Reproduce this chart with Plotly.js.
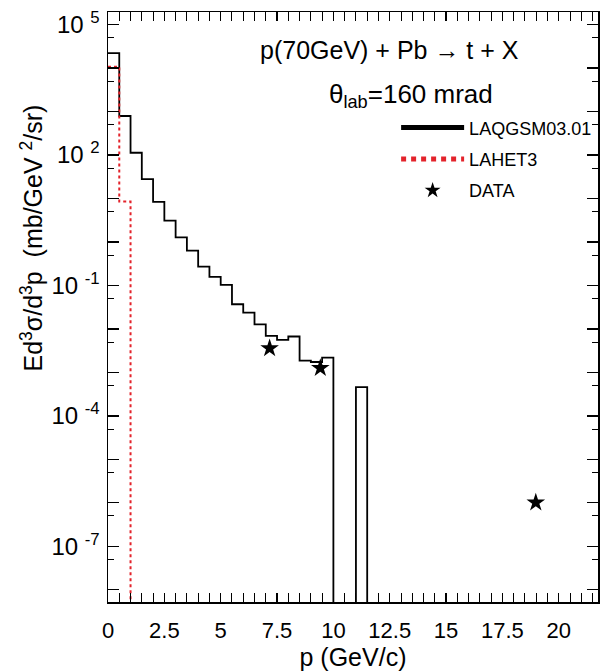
<!DOCTYPE html>
<html>
<head>
<meta charset="utf-8">
<script src="https://cdn.plot.ly/plotly-3.0.1.min.js"></script>
<style>html,body{margin:0;padding:0;background:#fff;}#chart{width:600px;height:671px;}</style>
</head>
<body>
<div id="chart"></div>
<script>
// ---- data ----
const binWidth = 0.5; // GeV/c
const laqgsmBinStart = [0, 0.5, 1, 1.5, 2, 2.5, 3, 3.5, 4, 4.5, 5, 5.5, 6, 6.5, 7, 7.5, 8, 8.5, 9, 9.5, 10, 10.5, 11, 11.5];
const laqgsmValue = [22100, 790, 113, 28, 8.4, 3.1, 1.28, 0.63, 0.27, 0.158, 0.103, 0.037, 0.0237, 0.0128, 0.0069, 0.0056, 0.0067, 0.00186, 0.00174, 0.0022, 0, 0, 0.00046, 0];
const lahetBinStart = [0, 0.5, 1.0];
const lahetValue = [10700, 8.5, 0];
const dataP = [7.17, 9.42, 18.98];
const dataValue = [3.6e-3, 1.26e-3, 1.02e-6];
const xTickLabels = ["0", "2.5", "5", "7.5", "10", "12.5", "15", "17.5", "20"];
const yLabelExponents = [5, 2, -1, -4, -7];

// ---- helpers ----
const FLOOR = 1e-12; // zero bins fall below the axis on a log scale
function stepXY(starts, vals) {
  const x = starts.slice();
  x.push(starts[starts.length - 1] + binWidth);
  const y = vals.map(v => v > 0 ? v : FLOOR);
  y.push(y[y.length - 1]);
  return {x, y};
}
const lq = stepXY(laqgsmBinStart, laqgsmValue);
const lh = stepXY(lahetBinStart, lahetValue);

const decades = [];
for (let e = -8; e <= 5; e++) decades.push(e);
const yLabelVals = yLabelExponents.map(e => Math.pow(10, e));
const yLabelText = yLabelExponents.map(e => '10\u00a0<sup>' + e + '</sup>');
const yPlainDecades = decades.filter(e => !yLabelExponents.includes(e)).map(e => Math.pow(10, e));
const yMinor = decades.map(e => 5 * Math.pow(10, e - 1)).filter(v => v > Math.pow(10, -8.28));

const font = 'Liberation Sans, Arial, sans-serif';

const traces = [
  {x: lq.x, y: lq.y, type: 'scatter', mode: 'lines', name: 'LAQGSM03.01',
   line: {shape: 'hv', color: '#000', width: 1.8}, legendgroup: 'a'},
  {x: lh.x, y: lh.y, type: 'scatter', mode: 'lines', name: 'LAHET3',
   line: {shape: 'hv', color: '#e3232b', width: 2, dash: 'dot'}, legendgroup: 'b'},
  {x: dataP, y: dataValue, type: 'scatter', mode: 'markers', name: 'DATA', yaxis: 'y2',
   marker: {symbol: 'star', size: 14, color: '#000'}, legendgroup: 'c'}
];

const layout = {
  width: 600, height: 671,
  margin: {l: 107.5, r: 2, t: 12, b: 69},
  paper_bgcolor: '#fff', plot_bgcolor: '#fff',
  font: {family: font, color: '#000'},
  showlegend: true,
  legend: {x: 0.588, y: 0.835, xanchor: 'left', yanchor: 'top', bgcolor: 'rgba(0,0,0,0)',
           font: {size: 18, family: font}, itemwidth: 63, traceorder: 'grouped', tracegroupgap: 5,
           itemsizing: 'constant'},
  xaxis: {
    range: [0, 21.74], showgrid: false, zeroline: false,
    showline: true, linecolor: '#000', linewidth: 1.5, mirror: 'allticks',
    ticks: 'inside', ticklen: 9, tickwidth: 1.2, tickcolor: '#000',
    tickmode: 'array', tickvals: xTickLabels.map(Number), ticktext: xTickLabels,
    minor: {dtick: 0.5, ticks: 'inside', ticklen: 4, tickwidth: 1, tickcolor: '#000'},
    tickfont: {size: 22, family: font}, ticklabelstandoff: 8,
    title: {text: 'p (GeV/c)', font: {size: 25, family: font}, standoff: 4}
  },
  yaxis: {
    type: 'log', range: [-8.28, 5.29], showgrid: false, zeroline: false,
    showline: true, linecolor: '#000', linewidth: 1.5, mirror: 'allticks',
    ticks: 'inside', ticklen: 11, tickwidth: 1.2, tickcolor: '#000',
    tickmode: 'array', tickvals: yLabelVals, ticktext: yLabelText,
    minor: {tickvals: yMinor, ticks: 'inside', ticklen: 6, tickwidth: 1, tickcolor: '#000'},
    tickfont: {size: 24, family: font}, ticklabelstandoff: 2
  },
  yaxis2: {
    type: 'log', matches: 'y', overlaying: 'y', side: 'left', showgrid: false, zeroline: false,
    showline: false, mirror: 'allticks', showticklabels: false,
    ticks: 'inside', ticklen: 11, tickwidth: 1.2, tickcolor: '#000',
    tickmode: 'array', tickvals: yPlainDecades
  },
  annotations: [
    {xref: 'paper', yref: 'paper', x: -0.156, y: 0.617, xanchor: 'center', yanchor: 'middle', showarrow: false,
     textangle: -90, text: 'Ed<sup>3</sup>σ/d<sup>3</sup>p\u00a0\u00a0(mb/GeV\u00a0<sup>2</sup>/sr)',
     font: {size: 25, family: font}},
    {xref: 'paper', yref: 'paper', x: 0.575, y: 0.936, xanchor: 'center', yanchor: 'middle', showarrow: false,
     text: 'p(70GeV) + Pb \u2192 t + X', font: {size: 25, family: font}},
    {xref: 'paper', yref: 'paper', x: 0.619, y: 0.859, xanchor: 'center', yanchor: 'middle', showarrow: false,
     text: 'θ<sub>lab</sub>=160 mrad', font: {size: 26, family: font}}
  ]
};

Plotly.newPlot('chart', traces, layout, {displayModeBar: false, staticPlot: true});
</script>
</body>
</html>
